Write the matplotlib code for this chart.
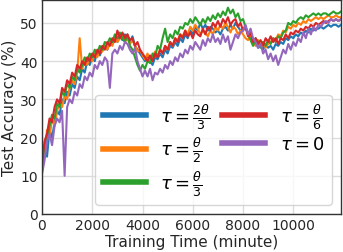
import numpy as np
import matplotlib
matplotlib.use('Agg')
from matplotlib import pyplot as plt

# sampled every 100 minutes
minutes = np.arange(0, 12000, 100)

acc_2theta3 = [11, 17, 15, 22, 20, 24, 27, 26, 30, 29,
               32, 31, 34, 33, 36, 35, 38, 37, 40, 39,
               41, 40, 42.5, 41.5, 43, 44, 43, 45, 44.5, 46,
               45, 46.5, 45.5, 47, 46, 45, 46.5, 44, 43, 42,
               41, 40, 41.5, 40, 39, 41, 40.5, 42, 41, 43,
               42, 44, 43.5, 45, 44, 46, 45, 47, 46, 48,
               47, 49, 48, 50, 48.5, 49.5, 48, 49, 48.5, 47.5,
               48, 47, 48.5, 49, 48, 49.5, 48.5, 50, 49, 48,
               48.5, 49, 47, 46, 44.5, 45, 43.5, 44, 43, 44.5,
               43.5, 44, 43, 44.5, 44, 45, 44.5, 46, 45.5, 46.5,
               46, 47, 46.5, 47.5, 47, 48, 47.5, 48.5, 48, 48.5,
               48.5, 49, 48.5, 49, 49.5, 49, 49.5, 49.5, 49, 49.5]

acc_theta2 = [13, 16, 22, 20, 25, 23, 27, 29, 28, 31,
              30, 33, 35, 34, 37, 46, 38, 40, 39, 41,
              40, 42, 41, 43, 42.5, 44, 43, 45, 44, 46,
              45, 46, 47, 45, 46, 44.5, 45.5, 44, 42.5, 43,
              41.5, 40.5, 42, 40, 41, 42.5, 41.5, 43, 42, 44,
              43, 45, 44, 46, 45.5, 47, 46.5, 48, 47, 49,
              48, 49.5, 48.5, 47, 48, 47.5, 46.5, 48, 47, 49,
              48, 49.5, 48.5, 50, 49, 47.5, 49, 48.5, 47, 48,
              47, 46, 45.5, 47, 45, 44, 45.5, 44, 45, 43.5,
              44.5, 45, 46, 45.5, 47, 46.5, 48, 47.5, 49, 48.5,
              49.5, 49, 50, 49.5, 50.5, 50, 51, 50.5, 51, 51.5,
              51, 51.5, 51, 51.5, 52, 51.5, 51.5, 52, 51.5, 51.5]

acc_theta3 = [12, 18, 20, 23, 26, 25, 29, 28, 32, 31,
              34, 33, 36, 35, 38, 37, 39, 41, 40, 42,
              41, 43, 42, 44, 43, 45, 44.5, 46, 45, 47,
              46, 47.5, 46, 45, 47, 44, 43, 41, 39, 37.5,
              39, 38, 40, 39.5, 42, 41, 44, 43, 46, 48.5,
              45, 47, 46, 48, 47, 49, 48.5, 50, 49.5, 51,
              50, 51.5, 50.5, 49.5, 51, 50, 51.5, 50.5, 52, 51,
              52.5, 51.5, 53, 52, 54, 52.5, 53.5, 51.5, 52.5, 50.5,
              51, 49, 47, 45.5, 44, 46, 45, 43.5, 45, 44,
              45.5, 44.5, 46, 45, 46.5, 46, 47.5, 48, 50, 49.5,
              50.5, 50, 51, 51.5, 51, 52, 51.5, 52, 52.5, 52,
              52.5, 52, 52.5, 52.5, 52, 52.5, 53, 52.5, 52.5, 53]

acc_theta6 = [13, 19, 21, 25, 24, 28, 30, 29, 33, 32,
              35, 34, 37, 36, 39, 38, 40, 39, 41, 40,
              42, 41, 43, 42, 44, 43, 45, 44, 46, 45,
              48, 46, 47.5, 46, 47, 45.5, 46, 44, 45, 43,
              42, 41, 40, 41.5, 40, 42, 41, 43, 42, 44,
              43, 45, 44, 46, 45, 47, 46, 48, 46.5, 47.5,
              46, 48, 47, 46.5, 48.5, 47, 49, 48, 50, 49,
              50.5, 49, 51, 50, 51.5, 49.5, 50.5, 51, 49, 50,
              48, 49, 46.5, 47.5, 45, 46, 44.5, 45.5, 44, 46,
              45, 46.5, 45, 46, 44.5, 46, 45.5, 47, 46, 47.5,
              47, 48, 47.5, 48.5, 48, 49, 48.5, 49.5, 49, 50,
              49.5, 50, 50.5, 50, 50.5, 51, 50.5, 51, 50.5, 51]

acc_zero = [10.5, 14, 19, 21, 18, 23, 25, 24, 27, 10,
            28, 30, 29, 32, 31, 34, 33, 36, 35, 37,
            36, 39, 38, 40, 39, 41, 40, 33, 42, 43,
            42, 44, 43, 45, 44.5, 43, 42, 43.5, 40, 38,
            36, 37.5, 36, 38, 35, 37, 36.5, 38, 37, 39,
            38, 40, 39, 41, 40, 42, 41, 43, 42, 44,
            43, 45, 44, 43, 45.5, 44, 46, 45, 47, 45,
            46, 44.5, 47, 45, 46.5, 43, 45, 47, 46, 47.5,
            48, 49.5, 47, 48.5, 46, 45, 43.5, 44.5, 42, 43,
            40.5, 42, 40, 41.5, 39, 41, 43, 42, 44.5, 43,
            45, 44, 46, 45, 47.5, 46, 48.5, 47, 49, 48,
            49.5, 49, 50, 50.5, 50, 51, 50.5, 51, 50.5, 51]

series = [acc_2theta3, acc_theta2, acc_theta3, acc_theta6, acc_zero]
labels = [r'$\tau=\frac{2\theta}{3}$', r'$\tau=\frac{\theta}{2}$',
          r'$\tau=\frac{\theta}{3}$', r'$\tau=\frac{\theta}{6}$',
          r'$\tau=0$']
colors = ['#1f77b4', '#ff7f0e', '#2ca02c', '#d62728', '#9467bd']

fig = plt.figure(figsize=(3.43, 2.53), dpi=100)
ax = fig.add_axes([42/343, 1 - 215/253, 299/343, 214/253])

for vals, lab, c in zip(series, labels, colors):
    ax.plot(minutes, vals, color=c, lw=1.5, label=lab)

ax.set_xlim(0, 11900)
ax.set_ylim(0, 56)
ax.set_xticks([0, 2000, 4000, 6000, 8000, 10000])
ax.set_yticks([0, 10, 20, 30, 40, 50])
ax.grid(True, color='#dcdcdc', lw=1)
ax.set_axisbelow(True)
for s in ax.spines.values():
    s.set_color('#333333')
    s.set_linewidth(1)
ax.tick_params(length=0, labelsize=10, colors='#262626', pad=3)
ax.set_xlabel('Training Time (minute)', fontsize=11, color='#262626', labelpad=1)
ax.set_ylabel('Test Accuracy (%)', fontsize=11, color='#262626', labelpad=2)

leg = ax.legend(loc='lower right', ncol=2, fontsize=13, handlelength=2.4,
                columnspacing=0.6, handletextpad=0.8, labelspacing=0.25,
                borderaxespad=0.5, fancybox=True, framealpha=0.8)
for line in leg.get_lines():
    line.set_linewidth(4)

fig.savefig('out.png', dpi=100)
